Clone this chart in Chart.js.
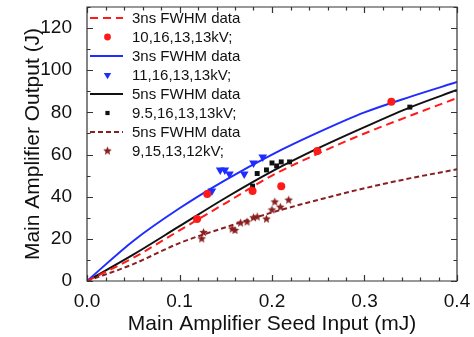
<!DOCTYPE html>
<html>
<head>
<meta charset="utf-8">
<script src="https://cdn.jsdelivr.net/npm/chart.js@4.4.1/dist/chart.umd.min.js"></script>
<style>
  html, body { margin: 0; padding: 0; background: #fff; }
  #wrap { width: 474px; height: 337px; }
</style>
</head>
<body>
<div id="wrap"><canvas id="chart" width="474" height="337"></canvas></div>
<script>
// fitted curves, read at fixed seed inputs
const fitX = [0, 0.05, 0.1, 0.15, 0.2, 0.25, 0.3, 0.35, 0.4];
const red3nsFit = [0, 11, 24, 37, 50, 60.5, 70, 78.5, 86.8];
const blue3nsFit = [0, 19, 34.5, 48, 60, 70.5, 80, 87.5, 94.4];
const black5nsFit = [0, 12.5, 26, 39.5, 52, 63, 73, 82.5, 90.6];
const maroon5nsFit = [0, 8, 18, 25.5, 32.5, 38.5, 44, 48.8, 53];

// measured points
const redX = [0.119, 0.130, 0.179, 0.210, 0.249, 0.329];
const redY = [29.4, 41.3, 42.7, 45, 61.7, 85];
const blueX = [0.135, 0.144, 0.149, 0.154, 0.170, 0.180, 0.190];
const blueY = [42.7, 52.7, 52.7, 50.8, 50.8, 56, 58.8];
const blackX = [0.179, 0.184, 0.194, 0.200, 0.205, 0.210, 0.219, 0.349];
const blackY = [45, 51, 52.7, 56, 54.6, 56.5, 56.5, 82.5];
const maroonX = [0.126, 0.124, 0.157, 0.160, 0.166, 0.173, 0.180, 0.184, 0.194, 0.200, 0.203, 0.209, 0.218];
const maroonY = [23, 20, 24.7, 24, 27.5, 28, 30, 30.4, 29.4, 33.7, 37.5, 35, 38.4];

const legendLabels = ['3ns FWHM data', '10,16,13,13kV;', '3ns FWHM data', '11,16,13,13kV;',
                      '5ns FWHM data', '9.5,16,13,13kV;', '5ns FWHM data', '9,15,13,12kV;'];

const RED = '#ff1a1a', BLUE = '#1f2cff', BLACK = '#111111', MAROON = '#8a1f1f';
const FONT = "'Liberation Sans', Arial, Helvetica, sans-serif";

function pts(xs, ys) { return xs.map((x, i) => ({ x: x, y: ys[i] })); }

// filled five point star for the 9,15,13,12kV points
function makeStar(color, r) {
  const c = document.createElement('canvas');
  const s = Math.ceil(r * 2 + 2);
  c.width = s; c.height = s;
  const g = c.getContext('2d');
  g.fillStyle = color;
  g.beginPath();
  for (let i = 0; i < 10; i++) {
    const rad = i % 2 === 0 ? r : r * 0.45;
    const a = -Math.PI / 2 + i * Math.PI / 5;
    const px = s / 2 + rad * Math.cos(a), py = s / 2 + rad * Math.sin(a);
    if (i === 0) g.moveTo(px, py); else g.lineTo(px, py);
  }
  g.closePath();
  g.fill();
  return c;
}
const starImg = makeStar(MAROON, 4.5);

function fitSet(data, color, dash) {
  return {
    data: pts(fitX, data), showLine: true, borderColor: color, backgroundColor: color,
    borderWidth: 2, borderDash: dash, pointRadius: 0, tension: 0.4,
    cubicInterpolationMode: 'monotone'
  };
}
function ptSet(xs, ys, color, style, radius, rotation) {
  return {
    data: pts(xs, ys), showLine: false, borderColor: color, backgroundColor: color,
    pointStyle: style, pointRadius: radius, pointRotation: rotation || 0, borderWidth: 0
  };
}

// frame with inward ticks, then the legend inside the plot
const decorPlugin = {
  id: 'decor',
  afterDraw(chart) {
    const ctx = chart.ctx;
    const a = chart.chartArea;
    const xs = chart.scales.x, ys = chart.scales.y;

    ctx.save();
    ctx.setLineDash([]);
    ctx.strokeStyle = '#333333';
    ctx.lineWidth = 1.2;
    ctx.beginPath();
    ctx.rect(a.left, a.top, a.right - a.left, a.bottom - a.top);
    for (let i = 0; i <= 20; i++) {
      const px = Math.round(xs.getPixelForValue(i * 0.02)) + 0.5;
      const len = i % 5 === 0 ? 6 : 3.5;
      ctx.moveTo(px, a.bottom); ctx.lineTo(px, a.bottom - len);
      ctx.moveTo(px, a.top); ctx.lineTo(px, a.top + len);
    }
    for (let v = 0; v <= 130; v += 10) {
      const py = Math.round(ys.getPixelForValue(v)) + 0.5;
      const len = v % 20 === 0 ? 6 : 3.5;
      ctx.moveTo(a.left, py); ctx.lineTo(a.left + len, py);
      ctx.moveTo(a.right, py); ctx.lineTo(a.right - len, py);
    }
    ctx.stroke();

    ctx.font = '15px ' + FONT;
    ctx.textBaseline = 'middle';
    chart.data.datasets.forEach((ds, i) => {
      const y = a.top + 11 + i * 19;
      const x0 = a.left + 3, x1 = a.left + 36, xm = (x0 + x1) / 2 + 1;
      ctx.strokeStyle = ds.borderColor;
      ctx.fillStyle = ds.backgroundColor;
      if (ds.showLine) {
        ctx.lineWidth = 2;
        ctx.setLineDash(ds.borderDash || []);
        ctx.beginPath(); ctx.moveTo(x0, y); ctx.lineTo(x1, y); ctx.stroke();
        ctx.setLineDash([]);
      } else {
        Chart.helpers.drawPoint(ctx, {
          pointStyle: ds.pointStyle, radius: ds.pointRadius * 0.85,
          rotation: ds.pointRotation, borderWidth: 0
        }, xm, y);
      }
      ctx.fillStyle = '#111';
      ctx.fillText(legendLabels[i], a.left + 45, y + 1);
    });
    ctx.restore();
  }
};

new Chart(document.getElementById('chart'), {
  type: 'scatter',
  data: {
    datasets: [
      fitSet(red3nsFit, RED, [8, 5]),
      ptSet(redX, redY, RED, 'circle', 4),
      fitSet(blue3nsFit, BLUE, []),
      ptSet(blueX, blueY, BLUE, 'triangle', 5, 180),
      fitSet(black5nsFit, BLACK, []),
      ptSet(blackX, blackY, BLACK, 'rect', 3.5),
      fitSet(maroon5nsFit, MAROON, [5, 3]),
      ptSet(maroonX, maroonY, MAROON, starImg, 4.5)
    ]
  },
  options: {
    responsive: false,
    animation: false,
    layout: { padding: { top: 7, right: 17, left: 0, bottom: 0 } },
    plugins: { legend: { display: false }, tooltip: { enabled: false } },
    scales: {
      x: {
        type: 'linear', min: 0, max: 0.4,
        grid: { display: false }, border: { display: false },
        ticks: {
          stepSize: 0.1, padding: 1, color: '#111',
          font: { family: FONT, size: 19 },
          callback: v => v.toFixed(1)
        },
        title: {
          display: true, text: 'Main Amplifier Seed Input (mJ)', color: '#111',
          font: { family: FONT, size: 21 }, padding: { top: 0, bottom: 0 }
        },
        afterFit: s => { s.height = 56; s.paddingLeft = 0; s.paddingRight = 0; }
      },
      y: {
        type: 'linear', min: 0, max: 130,
        grid: { display: false }, border: { display: false },
        ticks: {
          stepSize: 20, includeBounds: false, padding: 7, color: '#111',
          font: { family: FONT, size: 19 },
          callback: v => (v % 20 === 0 ? String(v) : '')
        },
        title: {
          display: true, text: 'Main Amplifier Output (J)', color: '#111',
          font: { family: FONT, size: 21 }, padding: { top: 21, bottom: 0 }
        },
        afterFit: s => { s.width = 87; s.paddingTop = 0; s.paddingBottom = 0; }
      }
    }
  },
  plugins: [decorPlugin]
});
</script>
</body>
</html>
